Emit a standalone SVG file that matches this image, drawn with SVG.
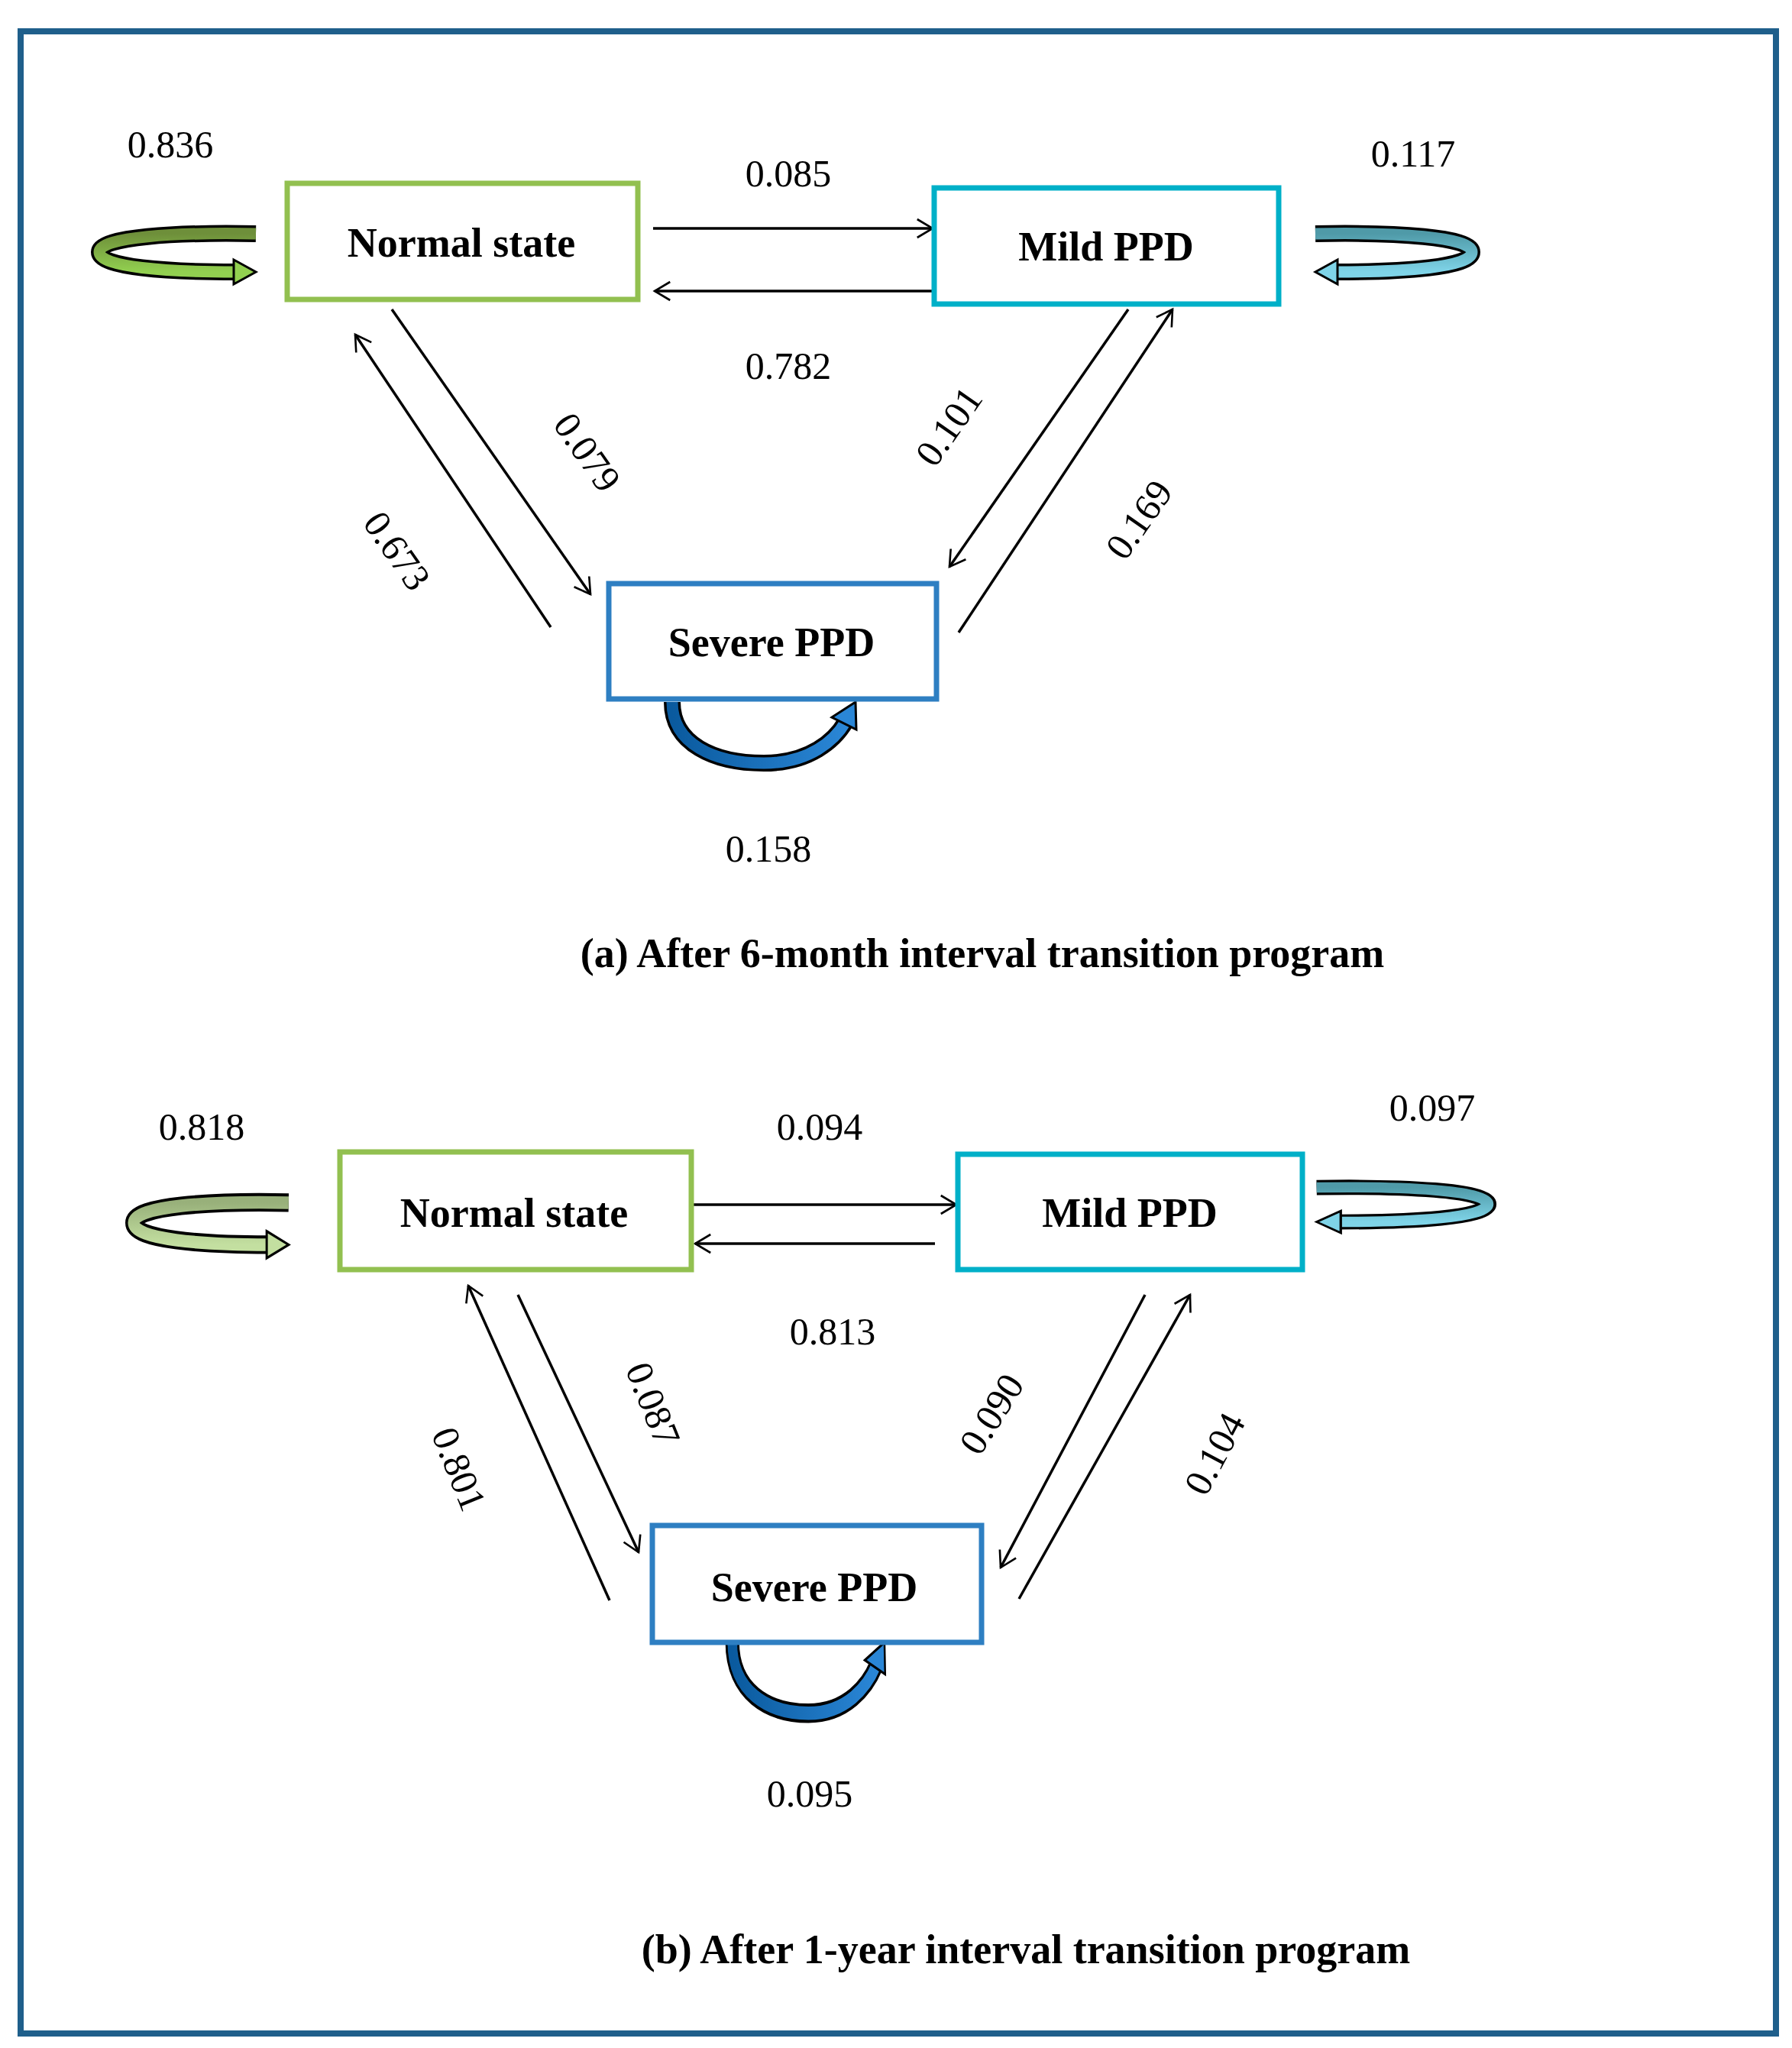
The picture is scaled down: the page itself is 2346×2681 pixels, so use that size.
<svg xmlns="http://www.w3.org/2000/svg" width="2346" height="2681" viewBox="0 0 2346 2681">
<style>
.box{fill:#fff;stroke-width:7}
.lbl{font-family:"Liberation Serif",serif;font-weight:bold;font-size:54px;text-anchor:middle;dominant-baseline:central}
.num{font-family:"Liberation Serif",serif;font-size:50px;text-anchor:middle;dominant-baseline:central}
.cap{font-family:"Liberation Serif",serif;font-weight:bold;font-size:54px;text-anchor:middle}
.ar{stroke:#000;stroke-width:3.5;fill:none;marker-end:url(#ah)}
.ol{fill:none;stroke:#000;stroke-width:22}
</style>
<defs>
<marker id="ah" viewBox="0 0 12 12" refX="11" refY="6" markerWidth="9" markerHeight="9" orient="auto" markerUnits="userSpaceOnUse" style="overflow:visible">
<path d="M-16,-10 L11,6 L-16,22" transform="scale(1)" fill="none" stroke="#000" stroke-width="3.5"/>
</marker>
<linearGradient id="gG" x1="0" y1="0" x2="0" y2="1"><stop offset="0" stop-color="#6e8f3a"/><stop offset="1" stop-color="#92d050"/></linearGradient>
<linearGradient id="gG2" x1="0" y1="0" x2="0" y2="1"><stop offset="0" stop-color="#98b07a"/><stop offset="1" stop-color="#c3dfa0"/></linearGradient>
<linearGradient id="gC" x1="0" y1="0" x2="0" y2="1"><stop offset="0" stop-color="#4f9aa8"/><stop offset="1" stop-color="#7fd4e8"/></linearGradient>
<linearGradient id="gB" x1="0" y1="0" x2="1" y2="0"><stop offset="0" stop-color="#0a5a9e"/><stop offset="1" stop-color="#2a86d6"/></linearGradient>
</defs>
<rect x="27" y="41" width="2298" height="2621" fill="#fff" stroke="#1f5f8b" stroke-width="8"/>

<g id="loops">
<g transform="translate(120,292)">
<path class="ol" d="M215,14 C110,12 10,18 10,38 C10,58 100,64 188,64"/>
<path d="M215,14 C110,12 10,18 10,38 C10,58 100,64 188,64" fill="none" stroke="url(#gG)" stroke-width="15"/>
<polygon points="186,48 215,64 186,80" fill="#92d050" stroke="#000" stroke-width="3"/>
</g>
<g transform="translate(1937,292) scale(-1,1)">
<path class="ol" d="M215,14 C110,12 10,18 10,38 C10,58 100,64 188,64"/>
<path d="M215,14 C110,12 10,18 10,38 C10,58 100,64 188,64" fill="none" stroke="url(#gC)" stroke-width="15"/>
<polygon points="186,48 215,64 186,80" fill="#7fd4e8" stroke="#000" stroke-width="3"/>
</g>
<g transform="translate(855,919)">
<path class="ol" d="M25,0 C25,55 80,80 145,80 C205,80 238,50 252,26"/>
<path d="M25,0 C25,55 80,80 145,80 C205,80 238,50 252,26" fill="none" stroke="url(#gB)" stroke-width="15"/>
<polygon points="234,20 265,0 266,36" fill="#2a86d6" stroke="#000" stroke-width="3"/>
</g>
<g transform="translate(165,1559) scale(0.99,1.1)">
<path class="ol" d="M215,14 C110,12 10,18 10,38 C10,58 100,64 188,64"/>
<path d="M215,14 C110,12 10,18 10,38 C10,58 100,64 188,64" fill="none" stroke="url(#gG2)" stroke-width="15"/>
<polygon points="186,48 215,64 186,80" fill="#c3dfa0" stroke="#000" stroke-width="3"/>
</g>
<g transform="translate(1958,1542) scale(-1.09,0.9)">
<path class="ol" d="M215,14 C110,12 10,18 10,38 C10,58 100,64 188,64"/>
<path d="M215,14 C110,12 10,18 10,38 C10,58 100,64 188,64" fill="none" stroke="url(#gC)" stroke-width="15"/>
<polygon points="186,48 215,64 186,80" fill="#7fd4e8" stroke="#000" stroke-width="3"/>
</g>
<g transform="translate(938,2150) scale(0.83,1.16)">
<path class="ol" d="M25,0 C25,55 80,80 145,80 C205,80 238,50 252,26"/>
<path d="M25,0 C25,55 80,80 145,80 C205,80 238,50 252,26" fill="none" stroke="url(#gB)" stroke-width="15"/>
<polygon points="234,20 265,0 266,36" fill="#2a86d6" stroke="#000" stroke-width="3"/>
</g>
</g>

<g id="connectors">
<line class="ar" x1="855" y1="299" x2="1221" y2="299"/>
<line class="ar" x1="1223" y1="381" x2="857" y2="381"/>
<line class="ar" x1="513" y1="405" x2="773" y2="778"/>
<line class="ar" x1="721" y1="821" x2="465" y2="438"/>
<line class="ar" x1="1477" y1="405" x2="1243" y2="742"/>
<line class="ar" x1="1255" y1="828" x2="1535" y2="405"/>
<line class="ar" x1="907" y1="1577" x2="1252" y2="1577"/>
<line class="ar" x1="1224" y1="1628" x2="910" y2="1628"/>
<line class="ar" x1="678" y1="1695" x2="836" y2="2032"/>
<line class="ar" x1="798" y1="2095" x2="613" y2="1683"/>
<line class="ar" x1="1499" y1="1695" x2="1310" y2="2052"/>
<line class="ar" x1="1334" y1="2093" x2="1558" y2="1695"/>
</g>

<g id="normal-a"><rect class="box" x="376" y="240" width="459" height="152" stroke="#92c050"/><text class="lbl" x="604" y="318">Normal state</text></g>
<g id="mild-a"><rect class="box" x="1223" y="246" width="451" height="152" stroke="#00b0c8"/><text class="lbl" x="1448" y="323">Mild PPD</text></g>
<g id="severe-a"><rect class="box" x="797" y="764" width="429" height="151" stroke="#2e7fc2"/><text class="lbl" x="1010" y="841">Severe PPD</text></g>
<g id="normal-b"><rect class="box" x="445" y="1508" width="460" height="154" stroke="#92c050"/><text class="lbl" x="673" y="1588">Normal state</text></g>
<g id="mild-b"><rect class="box" x="1254" y="1511" width="451" height="151" stroke="#00b0c8"/><text class="lbl" x="1479" y="1588">Mild PPD</text></g>
<g id="severe-b"><rect class="box" x="854" y="1997" width="431" height="153" stroke="#2e7fc2"/><text class="lbl" x="1066" y="2078">Severe PPD</text></g>

<g id="labels">
<text class="num" x="223" y="189">0.836</text>
<text class="num" x="1032" y="227">0.085</text>
<text class="num" x="1850" y="201">0.117</text>
<text class="num" x="1032" y="479">0.782</text>
<text class="num" transform="translate(769,592) rotate(55)">0.079</text>
<text class="num" transform="translate(520,721) rotate(55)">0.673</text>
<text class="num" transform="translate(1242,558) rotate(-55)">0.101</text>
<text class="num" transform="translate(1491,680) rotate(-55)">0.169</text>
<text class="num" x="1006" y="1111">0.158</text>
<text class="cap" x="1286" y="1266">(a) After 6-month interval transition program</text>
<text class="num" x="264" y="1475">0.818</text>
<text class="num" x="1073" y="1475">0.094</text>
<text class="num" x="1875" y="1450">0.097</text>
<text class="num" x="1090" y="1743">0.813</text>
<text class="num" transform="translate(855,1838) rotate(68)">0.087</text>
<text class="num" transform="translate(601,1923) rotate(68)">0.801</text>
<text class="num" transform="translate(1298,1851) rotate(-58)">0.090</text>
<text class="num" transform="translate(1590,1903) rotate(-62)">0.104</text>
<text class="num" x="1060" y="2348">0.095</text>
<text class="cap" x="1343" y="2570">(b) After 1-year interval transition program</text>
</g>
</svg>
